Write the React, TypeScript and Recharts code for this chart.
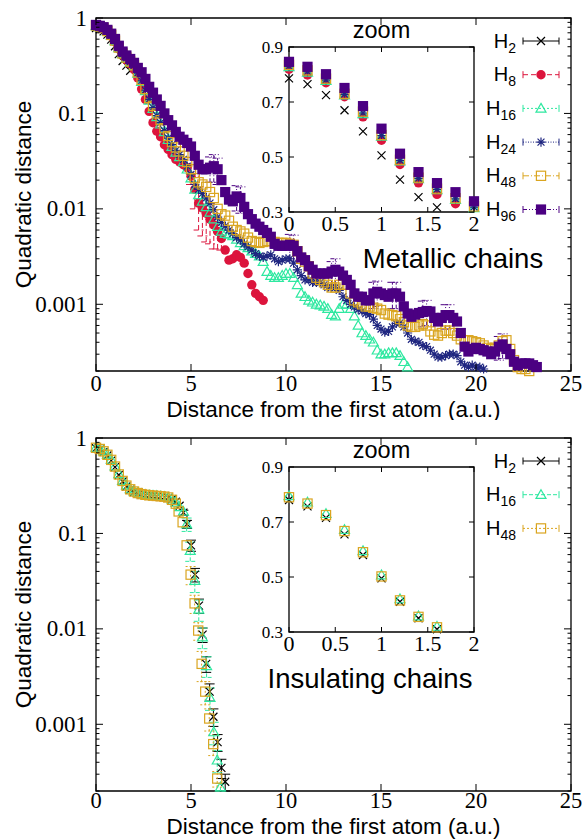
import React from 'react';
import { ScatterChart, Scatter, XAxis, YAxis, ErrorBar, ReferenceArea } from 'recharts';

const SANS = '"Liberation Sans", Arial, Helvetica, sans-serif';
const SERIF = '"Liberation Serif", "Times New Roman", serif';

// ---------------- DATA: metallic chains (x grid step 0.2 a.u.) ----------------
const STEP = 0.2;
const h2MetalY = [0.786, 0.765, 0.725, 0.67, 0.593, 0.506, 0.418, 0.354, 0.317, 0.28];
const h8MetalY = [
  0.819, 0.798, 0.77, 0.719, 0.646, 0.561, 0.473, 0.406, 0.364, 0.33,
  0.29, 0.235, 0.18, 0.14, 0.105, 0.08, 0.065, 0.057, 0.047, 0.042,
  0.037, 0.033, 0.031, 0.029, 0.027, 0.022, 0.016, 0.0115, 0.0102, 0.009,
  0.0078, 0.0068, 0.0058, 0.0049, 0.0037, 0.0029, 0.003, 0.0033, 0.0031, 0.0027,
  0.0021, 0.0016, 0.0013, 0.0012, 0.0011,
];
const h8MetalErr: [number, number][] = [
  [5.0, 0.004], [5.2, 0.006], [5.4, 0.0055], [5.6, 0.005], [5.8, 0.0045],
  [6.0, 0.0035], [6.2, 0.003], [6.4, 0.002], [6.6, 0.0012],
];
const h16MetalY = [
  0.828, 0.808, 0.778, 0.725, 0.657, 0.575, 0.485, 0.42, 0.38, 0.345,
  0.315, 0.262, 0.215, 0.172, 0.137, 0.112, 0.092, 0.077, 0.064, 0.053,
  0.045, 0.039, 0.035, 0.031, 0.026, 0.021, 0.016, 0.014, 0.012, 0.0105,
  0.0092, 0.0078, 0.0065, 0.0058, 0.0055, 0.0054, 0.0052, 0.0048, 0.0044, 0.0041,
  0.0039, 0.0036, 0.0034, 0.0032, 0.0028, 0.0022, 0.002, 0.0019, 0.0019, 0.002,
  0.0021, 0.0021, 0.0019, 0.0016, 0.0013, 0.0012, 0.0011, 0.00105, 0.001, 0.00098,
  0.00095, 0.0009, 0.00078, 0.00075, 0.0009, 0.001, 0.001, 0.0009, 0.00075, 0.0006,
  0.0005, 0.00047, 0.00043, 0.0004, 0.00033, 0.0003, 0.0003, 0.00031, 0.00031, 0.00031,
  0.00029, 0.00025, 0.00022,
];
const h24MetalY = [
  0.83, 0.81, 0.78, 0.728, 0.66, 0.578, 0.488, 0.422, 0.382, 0.348,
  0.318, 0.265, 0.22, 0.175, 0.14, 0.115, 0.095, 0.08, 0.066, 0.055,
  0.047, 0.041, 0.037, 0.033, 0.028, 0.023, 0.018, 0.016, 0.0145, 0.013,
  0.0115, 0.0098, 0.0082, 0.0072, 0.0066, 0.006, 0.0055, 0.005, 0.0047, 0.0043,
  0.004, 0.0037, 0.0034, 0.0032, 0.0031, 0.0032, 0.0033, 0.003, 0.0028, 0.0029,
  0.003, 0.003, 0.0027, 0.0023, 0.002, 0.0018, 0.0018, 0.0017, 0.0017, 0.0017,
  0.0016, 0.0015, 0.0015, 0.0015, 0.0014, 0.0012, 0.0011, 0.001, 0.00094, 0.00088,
  0.00085, 0.0008, 0.00078, 0.0007, 0.0006, 0.00055, 0.00051, 0.00052, 0.00058, 0.00063,
  0.00064, 0.00058, 0.0005, 0.00043, 0.00041, 0.0004, 0.00037, 0.00036, 0.00033, 0.0003,
  0.00028, 0.00028, 0.00029, 0.0003, 0.0003, 0.00029, 0.00025, 0.00023, 0.00022, 0.00023,
  0.00022, 0.00022, 0.00021,
];
const h48MetalY = [
  0.835, 0.815, 0.785, 0.73, 0.665, 0.58, 0.49, 0.425, 0.385, 0.35,
  0.32, 0.27, 0.225, 0.18, 0.145, 0.12, 0.1, 0.085, 0.07, 0.058,
  0.05, 0.044, 0.04, 0.036, 0.031, 0.026, 0.021, 0.019, 0.018, 0.017,
  0.015, 0.013, 0.01, 0.0088, 0.0085, 0.0075, 0.0065, 0.006, 0.0058, 0.0055,
  0.005, 0.0046, 0.0045, 0.0044, 0.0045, 0.0046, 0.0046, 0.0045, 0.0044, 0.0044,
  0.0044, 0.0043, 0.0042, 0.0036, 0.003, 0.0028, 0.0025, 0.0021, 0.0019, 0.0018,
  0.0017, 0.0016, 0.0015, 0.0015, 0.0016, 0.0016, 0.0016, 0.0013, 0.0011, 0.00105,
  0.001, 0.00095, 0.00095, 0.00092, 0.0009, 0.00087, 0.0008, 0.00078, 0.00077, 0.00075,
  0.0007, 0.00065, 0.0006, 0.00058, 0.00058, 0.0006, 0.00062, 0.0006, 0.00052, 0.00048,
  0.00047, 0.0005, 0.00053, 0.00053, 0.0005, 0.00047, 0.00043, 0.00042, 0.00042, 0.00041,
  0.0004, 0.00039, 0.00037, 0.00035, 0.00034, 0.00035, 0.00037, 0.00041, 0.00042, 0.00034,
  0.00026, 0.00022, 0.00021, 0.00021, 0.0002,
];
const h96MetalY = [
  0.846, 0.828, 0.801, 0.751, 0.685, 0.603, 0.512, 0.445, 0.405, 0.372,
  0.339, 0.3, 0.27, 0.23, 0.19, 0.165, 0.14, 0.12, 0.1, 0.085,
  0.075, 0.064, 0.057, 0.053, 0.049, 0.045, 0.036, 0.029, 0.026, 0.026,
  0.027, 0.028, 0.026, 0.02, 0.015, 0.0125, 0.012, 0.0135, 0.013, 0.0105,
  0.0088, 0.0078, 0.007, 0.0065, 0.006, 0.0056, 0.0051, 0.0043, 0.0041, 0.0041,
  0.0041, 0.0042, 0.0041, 0.0036, 0.0031, 0.0029, 0.0025, 0.0023, 0.0021, 0.0021,
  0.0021, 0.0021, 0.0022, 0.0023, 0.0022, 0.002, 0.0018, 0.0016, 0.0013, 0.0012,
  0.0012, 0.0011, 0.0011, 0.0013, 0.00135, 0.0013, 0.00125, 0.0012, 0.0013, 0.0013,
  0.0012, 0.00095, 0.0008, 0.00074, 0.00078, 0.00081, 0.00083, 0.00085, 0.00084, 0.00072,
  0.00066, 0.00072, 0.00077, 0.00077, 0.00072, 0.00066, 0.0005, 0.00036, 0.00032, 0.00034,
  0.00035, 0.00034, 0.00033, 0.00032, 0.0003, 0.00032, 0.00036, 0.00038, 0.00034, 0.0003,
  0.00025, 0.00023, 0.00024, 0.00024, 0.00024, 0.00023, 0.00022,
];
const h96MetalErr: [number, number][] = [
  [6.0, 0.008], [6.2, 0.009], [6.4, 0.008], [7.4, 0.004], [7.6, 0.004],
  [10.2, 0.0012], [10.4, 0.0012], [12.4, 0.0006], [12.6, 0.0007],
  [14.6, 0.0004], [14.8, 0.0004], [15.6, 0.0004], [15.8, 0.0004],
  [17.2, 0.00025], [17.4, 0.00025], [18.4, 0.00022], [18.6, 0.00022],
  [21.2, 0.0001], [21.4, 0.00011],
];

// ---------------- DATA: insulating chains ----------------
const h2InsX = [
  0, 0.2, 0.4, 0.6, 0.8, 1.0, 1.2, 1.4, 1.6, 1.8, 2.0, 2.2, 2.4, 2.6, 2.8, 3.0, 3.2, 3.4, 3.6, 3.8,
  4.0, 4.2, 4.4, 4.6, 4.79, 5.0, 5.21, 5.42, 5.61, 5.8, 5.98, 6.18, 6.4, 6.6, 6.8,
];
const h2InsY = [
  0.78, 0.757, 0.715, 0.655, 0.58, 0.495, 0.41, 0.35, 0.31, 0.287, 0.272, 0.262, 0.255, 0.251, 0.248,
  0.246, 0.244, 0.242, 0.24, 0.236, 0.228, 0.215, 0.195, 0.165, 0.125, 0.075, 0.037, 0.0175, 0.0087,
  0.0043, 0.0022, 0.0012, 0.00065, 0.00035, 0.00025,
];
const h2InsErr = [
  0, 0, 0, 0, 0, 0, 0, 0, 0, 0, 0, 0, 0, 0, 0, 0, 0, 0, 0, 0,
  0, 0, 0, 0.01, 0.012, 0.01, 0.006, 0.003, 0.0015, 0.0008, 0.00045, 0.00025, 0.00013, 0.00008, 0.00005,
];
const h16InsX = [
  0, 0.2, 0.4, 0.6, 0.8, 1.0, 1.2, 1.4, 1.6, 1.8, 2.0, 2.2, 2.4, 2.6, 2.8, 3.0, 3.2, 3.4, 3.6, 3.8,
  4.0, 4.2, 4.4, 4.6, 4.77, 4.96, 5.2, 5.41, 5.6, 5.82, 6.0, 6.2, 6.38, 6.55,
];
const h16InsY = [
  0.795, 0.772, 0.73, 0.672, 0.595, 0.507, 0.42, 0.358, 0.32, 0.292, 0.277, 0.267, 0.26, 0.255, 0.252,
  0.25, 0.248, 0.246, 0.243, 0.238, 0.228, 0.212, 0.19, 0.17, 0.125, 0.066, 0.032, 0.016, 0.0082,
  0.0041, 0.0019, 0.00083, 0.00042, 0.00022,
];
const h16InsErr = [
  0, 0, 0, 0, 0, 0, 0, 0, 0, 0, 0, 0, 0, 0, 0, 0, 0, 0, 0, 0,
  0, 0, 0, 0, 0.02, 0.015, 0.008, 0.004, 0.002, 0.001, 0.0005, 0.00022, 0.00011, 0.00002,
];
const h48InsX = [
  0, 0.2, 0.4, 0.6, 0.8, 1.0, 1.2, 1.4, 1.6, 1.8, 2.0, 2.2, 2.4, 2.6, 2.8, 3.0, 3.2, 3.4, 3.6, 3.8,
  4.0, 4.2, 4.35, 4.56, 4.77, 4.98, 5.19, 5.38, 5.56, 5.75, 5.96, 6.17, 6.38,
];
const h48InsY = [
  0.79, 0.767, 0.725, 0.667, 0.59, 0.502, 0.415, 0.355, 0.317, 0.29, 0.275, 0.265, 0.258, 0.254, 0.251,
  0.249, 0.247, 0.245, 0.243, 0.238, 0.225, 0.205, 0.17, 0.131, 0.075, 0.037, 0.0185, 0.0096, 0.0043,
  0.0022, 0.00115, 0.00062, 0.00027,
];
const h48InsErr = [
  0, 0, 0, 0, 0, 0, 0, 0, 0, 0, 0, 0, 0, 0, 0, 0, 0, 0, 0, 0,
  0, 0, 0, 0, 0, 0.008, 0.004, 0.002, 0.0015, 0.0006, 0.0003, 0.00015, 0.00005,
];

// ---------------- axes ----------------
const mainXTicks = [0, 5, 10, 15, 20, 25];
const mainYMajor = [1, 0.1, 0.01, 0.001];
const mainYMajorLabels = ['1', '0.1', '0.01', '0.001'];
const mainYMinor = [1e-4, 1e-3, 1e-2, 1e-1].flatMap((d) => [2, 3, 4, 5, 6, 7, 8, 9].map((m) => +(m * d).toPrecision(3)));
const insetXTicks = [0, 0.5, 1, 1.5, 2];
const insetXLabels = ['0', '0.5', '1', '1.5', '2'];
const insetYTicks = [0.3, 0.5, 0.7, 0.9];
const insetYLabels = ['0.3', '0.5', '0.7', '0.9'];

// ---------------- helpers ----------------
type Row = { x: number; y: number; e?: number };
type Kind = 'cross' | 'circle' | 'triangle' | 'star' | 'osquare' | 'fsquare';
type Series = { sub: string; kind: Kind; color: string; dash?: string; rows: Row[] };

function gridRows(ys: number[], errs: [number, number][] = []): Row[] {
  const m = new Map(errs.map(([x, e]) => [x.toFixed(1), e]));
  return ys.map((y, i) => {
    const x = +(i * STEP).toFixed(2);
    return { x, y, e: m.get(x.toFixed(1)) };
  });
}
function listRows(xs: number[], ys: number[], es: number[]): Row[] {
  return xs.map((x, i) => ({ x, y: ys[i], e: es[i] || undefined }));
}

const C = {
  h2: '#000000',
  h8: '#dc143c',
  h16: '#2ee8a0',
  h24: '#1f2680',
  h48: '#daa520',
  h96: '#4b0082',
};

const metalSeries: Series[] = [
  { sub: '2', kind: 'cross', color: C.h2, rows: gridRows(h2MetalY) },
  { sub: '8', kind: 'circle', color: C.h8, dash: '5 3', rows: gridRows(h8MetalY, h8MetalErr) },
  { sub: '16', kind: 'triangle', color: C.h16, dash: '2 2', rows: gridRows(h16MetalY) },
  { sub: '24', kind: 'star', color: C.h24, dash: '1 1.5', rows: gridRows(h24MetalY) },
  { sub: '48', kind: 'osquare', color: C.h48, dash: '6 2 1 2', rows: gridRows(h48MetalY) },
  { sub: '96', kind: 'fsquare', color: C.h96, dash: '4 2 1 2 1 2', rows: gridRows(h96MetalY, h96MetalErr) },
];
const insSeries: Series[] = [
  { sub: '2', kind: 'cross', color: C.h2, rows: listRows(h2InsX, h2InsY, h2InsErr) },
  { sub: '16', kind: 'triangle', color: C.h16, dash: '4 2', rows: listRows(h16InsX, h16InsY, h16InsErr) },
  { sub: '48', kind: 'osquare', color: C.h48, dash: '2 2', rows: listRows(h48InsX, h48InsY, h48InsErr) },
];

function Marker({ kind, cx, cy, color }: { kind: Kind; cx: number; cy: number; color: string }) {
  if (cx == null || cy == null || isNaN(cx) || isNaN(cy)) return <g />;
  switch (kind) {
    case 'cross': {
      const s = 4;
      return <path d={`M${cx - s} ${cy - s}L${cx + s} ${cy + s}M${cx - s} ${cy + s}L${cx + s} ${cy - s}`} stroke={color} strokeWidth={1.2} fill="none" />;
    }
    case 'circle':
      return <circle cx={cx} cy={cy} r={4.7} fill={color} />;
    case 'triangle': {
      const s = 5;
      return <path d={`M${cx} ${cy - s}L${cx + s} ${cy + s * 0.75}L${cx - s} ${cy + s * 0.75}Z`} stroke={color} strokeWidth={1.2} fill="none" />;
    }
    case 'star': {
      const s = 4.6;
      const d = s * 0.75;
      return (
        <path
          d={`M${cx - s} ${cy}L${cx + s} ${cy}M${cx} ${cy - s}L${cx} ${cy + s}M${cx - d} ${cy - d}L${cx + d} ${cy + d}M${cx - d} ${cy + d}L${cx + d} ${cy - d}`}
          stroke={color}
          strokeWidth={1.2}
          fill="none"
        />
      );
    }
    case 'osquare': {
      const s = 4.6;
      return <rect x={cx - s} y={cy - s} width={2 * s} height={2 * s} stroke={color} strokeWidth={1.2} fill="none" />;
    }
    case 'fsquare': {
      const s = 5.1;
      return <rect x={cx - s} y={cy - s} width={2 * s} height={2 * s} fill={color} />;
    }
  }
  return <g />;
}

function renderSeries(series: Series[], keyPrefix: string, filter?: (r: Row) => boolean) {
  const out: React.ReactNode[] = [];
  series.forEach((s, i) => {
    const rows = filter ? s.rows.filter(filter) : s.rows;
    const errRows = rows.filter((r) => r.e != null && r.e > 0);
    if (errRows.length) {
      out.push(
        <Scatter key={`${keyPrefix}-e${i}`} data={errRows} shape={() => <g />} isAnimationActive={false}>
          <ErrorBar dataKey="e" direction="y" width={5} stroke={s.color} strokeWidth={1} strokeDasharray={s.dash} isAnimationActive={false} />
        </Scatter>
      );
    }
    out.push(
      <Scatter
        key={`${keyPrefix}-s${i}`}
        data={rows}
        isAnimationActive={false}
        shape={(p: any) => <Marker kind={s.kind} cx={p.cx} cy={p.cy} color={s.color} />}
      />
    );
  });
  return out;
}

// main plot geometry in chart coords
const M = { L: 96, R: 571, T: 18, B: 371 };
// inset geometry in inset-chart coords
const I = { L: 39, R: 224, T: 18, B: 183 };

function MainYTick(p: any) {
  const y = p.y;
  const v = p.payload?.value;
  const idx = mainYMajor.indexOf(v);
  const len = idx >= 0 ? 7 : 3.5;
  return (
    <g>
      <line x1={M.L} x2={M.L + len} y1={y} y2={y} stroke="#000" strokeWidth={1} />
      <line x1={M.R} x2={M.R - len} y1={y} y2={y} stroke="#000" strokeWidth={1} />
      {idx >= 0 && (
        <text x={87} y={y + 7.5} textAnchor="end" fontFamily={SERIF} fontSize={23} fill="#000">
          {mainYMajorLabels[idx]}
        </text>
      )}
    </g>
  );
}
function MainXTick(p: any) {
  const x = p.x;
  const v = p.payload?.value;
  return (
    <g>
      <line x1={x} x2={x} y1={M.B} y2={M.B - 7} stroke="#000" strokeWidth={1} />
      <line x1={x} x2={x} y1={M.T} y2={M.T + 7} stroke="#000" strokeWidth={1} />
      <text x={x} y={p.labelY} textAnchor="middle" fontFamily={SERIF} fontSize={22.5} fill="#000">
        {String(v)}
      </text>
    </g>
  );
}
function InsetYTick(p: any) {
  const y = p.y;
  const idx = insetYTicks.indexOf(p.payload?.value);
  return (
    <g>
      <line x1={I.L} x2={I.L + 5} y1={y} y2={y} stroke="#000" strokeWidth={1} />
      <line x1={I.R} x2={I.R - 5} y1={y} y2={y} stroke="#000" strokeWidth={1} />
      <text x={I.L - 6} y={y + 6} textAnchor="end" fontFamily={SERIF} fontSize={17} fill="#000">
        {insetYLabels[idx]}
      </text>
    </g>
  );
}
function InsetXTick(p: any) {
  const x = p.x;
  const idx = insetXTicks.indexOf(p.payload?.value);
  return (
    <g>
      <line x1={x} x2={x} y1={I.B} y2={I.B - 5} stroke="#000" strokeWidth={1} />
      <line x1={x} x2={x} y1={I.T} y2={I.T + 5} stroke="#000" strokeWidth={1} />
      <text x={x} y={I.B + 18.5} textAnchor="middle" fontFamily={SERIF} fontSize={22} fill="#000">
        {insetXLabels[idx]}
      </text>
    </g>
  );
}

function Legend({ series }: { series: Series[] }) {
  return (
    <g>
      {series.map((s, i) => {
        const y = 41 + i * 33.7;
        return (
          <g key={i}>
            <text x={516} y={y + 6.5} textAnchor="end" fontFamily={SANS} fontSize={20} fill="#000">
              H<tspan dy={5} fontSize={14}>{s.sub}</tspan>
            </text>
            <line x1={523} x2={559} y1={y} y2={y} stroke={s.color} strokeWidth={1} strokeDasharray={s.dash} />
            <line x1={523} x2={523} y1={y - 3.5} y2={y + 3.5} stroke={s.color} strokeWidth={1} />
            <line x1={559} x2={559} y1={y - 3.5} y2={y + 3.5} stroke={s.color} strokeWidth={1} />
            <Marker kind={s.kind} cx={541} cy={y} color={s.color} />
          </g>
        );
      })}
    </g>
  );
}

function Panel({
  top,
  series,
  label,
  labelX,
  xLabelY,
  tickLabelY,
}: {
  top: number;
  series: Series[];
  label: string;
  labelX: number;
  xLabelY: number;
  tickLabelY: number;
}) {
  const insetFilter = (r: Row) => r.x <= 2.001 && r.y >= 0.3 && r.y <= 0.9;
  return (
    <div style={{ position: 'absolute', left: 0, top, width: 588, height: 420 }}>
      <div style={{ position: 'absolute', left: 0, top: 0 }}>
        <ScatterChart width={588} height={420} margin={{ top: 18, right: 17, bottom: 0, left: 0 }}>
          <XAxis
            type="number"
            dataKey="x"
            domain={[0, 25]}
            ticks={mainXTicks}
            interval={0}
            tickLine={false}
            axisLine={false}
            height={49}
            tick={(p: any) => <MainXTick {...p} labelY={tickLabelY} />}
          />
          <YAxis
            type="number"
            dataKey="y"
            scale="log"
            domain={[0.0002, 1]}
            ticks={[...mainYMajor, ...mainYMinor]}
            interval={0}
            tickLine={false}
            axisLine={false}
            width={96}
            tick={(p: any) => <MainYTick {...p} />}
          />
          <ReferenceArea x1={0} x2={25} y1={0.0002} y2={1} fill="none" stroke="#000" strokeWidth={1.3} ifOverflow="visible" />
          {renderSeries(series, 'main')}
        </ScatterChart>
      </div>
      <div style={{ position: 'absolute', left: 250, top: 29 }}>
        <ScatterChart width={240} height={221} margin={{ top: 18, right: 16, bottom: 0, left: 0 }}>
          <XAxis
            type="number"
            dataKey="x"
            domain={[0, 2]}
            ticks={insetXTicks}
            interval={0}
            tickLine={false}
            axisLine={false}
            height={38}
            tick={(p: any) => <InsetXTick {...p} />}
          />
          <YAxis
            type="number"
            dataKey="y"
            domain={[0.3, 0.9]}
            ticks={insetYTicks}
            interval={0}
            tickLine={false}
            axisLine={false}
            width={39}
            tick={(p: any) => <InsetYTick {...p} />}
          />
          <ReferenceArea x1={0} x2={2} y1={0.3} y2={0.9} fill="none" stroke="#000" strokeWidth={1.3} ifOverflow="visible" />
          {renderSeries(series, 'inset', insetFilter)}
        </ScatterChart>
      </div>
      <svg width={588} height={420} style={{ position: 'absolute', left: 0, top: 0, pointerEvents: 'none' }}>
        <text x={30.5} y={194.5} transform="rotate(-90 30.5 194.5)" textAnchor="middle" fontFamily={SANS} fontSize={22.5} fill="#000">
          Quadratic distance
        </text>
        <text x={333.5} y={xLabelY} textAnchor="middle" fontFamily={SANS} fontSize={22.5} fill="#000">
          Distance from the first atom (a.u.)
        </text>
        <text x={381.5} y={38} textAnchor="middle" fontFamily={SANS} fontSize={23.5} fill="#000">
          zoom
        </text>
        <text x={labelX} y={268} textAnchor="middle" fontFamily={SANS} fontSize={27.5} fill="#000">
          {label}
        </text>
        <Legend series={series} />
      </svg>
    </div>
  );
}

export default function App() {
  return (
    <div style={{ position: 'absolute', left: 0, top: 0, width: 588, height: 839, overflow: 'hidden', background: '#fff' }}>
      <Panel top={0} series={metalSeries} label="Metallic chains" labelX={453} xLabelY={416.5} tickLabelY={391} />
      <Panel top={420} series={insSeries} label="Insulating chains" labelX={370} xLabelY={413.5} tickLabelY={388} />
    </div>
  );
}
